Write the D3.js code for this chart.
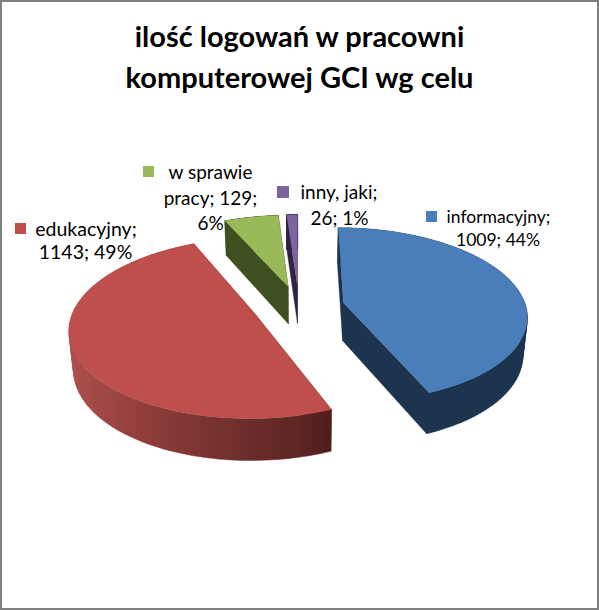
<!DOCTYPE html>
<html><head><meta charset="utf-8">
<script src="https://cdn.jsdelivr.net/npm/d3@7/dist/d3.min.js"></script>
<style>html,body{margin:0;padding:0;background:#fff}svg{display:block}</style>
</head><body><div id="c"></div>
<script>
const titleLines = ["ilość logowań w pracowni", "komputerowej GCI wg celu"];
const categories = ["informacyjny", "edukacyjny", "w sprawie pracy", "inny, jaki"];
const values = [1009, 1143, 129, 26];
const percents = ["44%", "49%", "6%", "1%"];
const topColors = ["#4a7ebb", "#be4f4c", "#9aba59", "#7f63a1"];
const sideColors = ["#1d344f", "url(#redSide)", "#3f5020", "#2f2444"];

const W = 599, H = 610;
const svg = d3.select("#c").append("svg").attr("width", W).attr("height", H);
svg.append("rect").attr("width", W).attr("height", H).attr("fill", "#fff");

const defs = svg.append("defs");
const grad = defs.append("linearGradient").attr("id", "redSide")
  .attr("gradientUnits", "userSpaceOnUse").attr("x1", 70).attr("x2", 331).attr("y1", 0).attr("y2", 0);
[[0, "#ad504d"], [0.25, "#933f3c"], [0.55, "#77322f"], [0.85, "#5f2624"], [1, "#4e1e1c"]]
  .forEach(([o, c]) => grad.append("stop").attr("offset", o).attr("stop-color", c));

// pie geometry
const cx = 299, cy = 307, R = 182.5, S = 86.4, K = 0.136, EXPL = 0.25, DEPTH = 38;
const pie = d3.pie().value(d => d).sort(null)(values);
const project = (X, Z, down) => {
  const w = 1 + K * Z;
  let x = R * X / w, y = -S * Z / w;
  if (down) { x *= 0.98; y += DEPTH / Math.pow(w, 0.6); }
  return [cx + x, cy + y];
};
const line = d3.line();
const oriented = q => d3.polygonArea(q) < 0 ? q.slice().reverse() : q;

// far slices first
[3, 2, 0, 1].forEach(i => {
  const a = pie[i], mid = (a.startAngle + a.endAngle) / 2;
  const X0 = EXPL * Math.sin(mid), Z0 = EXPL * Math.cos(mid);
  const angles = d3.range(0, 121).map(t => a.startAngle + (a.endAngle - a.startAngle) * t / 120);
  const rim = angles.map(t => [X0 + Math.sin(t), Z0 + Math.cos(t)]);
  const g = svg.append("g");
  const apexTop = project(X0, Z0, false), apexBot = project(X0, Z0, true);
  const rimTop = rim.map(p => project(p[0], p[1], false));
  const rimBot = rim.map(p => project(p[0], p[1], true));
  const last = rim.length - 1;
  const quads = [
    [apexTop, rimTop[0], rimBot[0], apexBot],
    [apexTop, rimTop[last], rimBot[last], apexBot]
  ];
  for (let j = 0; j < last; j++) quads.push([rimTop[j], rimTop[j + 1], rimBot[j + 1], rimBot[j]]);
  g.append("path").attr("d", quads.map(q => line(oriented(q)) + "Z").join(""))
    .attr("fill", sideColors[i]).attr("fill-rule", "nonzero")
    .attr("stroke", sideColors[i]).attr("stroke-width", 0.4);
  g.append("path").attr("d", line([apexTop, ...rimTop]) + "Z").attr("fill", topColors[i]);
});

// data labels
const labelLayout = [
  { size: 17.5, key: [426, 211, 11], lines: [["informacyjny;", 498.5, 223], ["1009; 44%", 498, 246]] },
  { size: 19.5, key: [15, 223, 11], lines: [["edukacyjny;", 86, 236], ["1143; 49%", 85.5, 259]] },
  { size: 19, key: [143, 166, 11], lines: [["w sprawie", 210.5, 179], ["pracy; 129;", 210.5, 205], ["6%", 210.5, 230]] },
  { size: 19, key: [277, 186, 12], lines: [["inny, jaki;", 339, 199], ["26; 1%", 339.5, 225]] }
];
labelLayout.forEach((l, i) => {
  svg.append("rect").attr("x", l.key[0]).attr("y", l.key[1]).attr("width", l.key[2]).attr("height", l.key[2]).attr("fill", topColors[i]);
  l.lines.forEach(t => svg.append("text").attr("x", t[1]).attr("y", t[2]).attr("text-anchor", "middle")
    .attr("font-family", "Lato, sans-serif").attr("font-size", l.size).attr("fill", "#000").text(t[0]));
});

// title
titleLines.forEach((t, i) => svg.append("text").attr("x", 299.5).attr("y", [47, 88][i]).attr("text-anchor", "middle")
  .attr("font-family", "Lato, sans-serif").attr("font-weight", 700).attr("font-size", 29).attr("fill", "#000").text(t));

// frame
svg.append("rect").attr("x", 1).attr("y", 1).attr("width", W - 2).attr("height", H - 2)
  .attr("fill", "none").attr("stroke", "#808080").attr("stroke-width", 2);
</script></body></html>
